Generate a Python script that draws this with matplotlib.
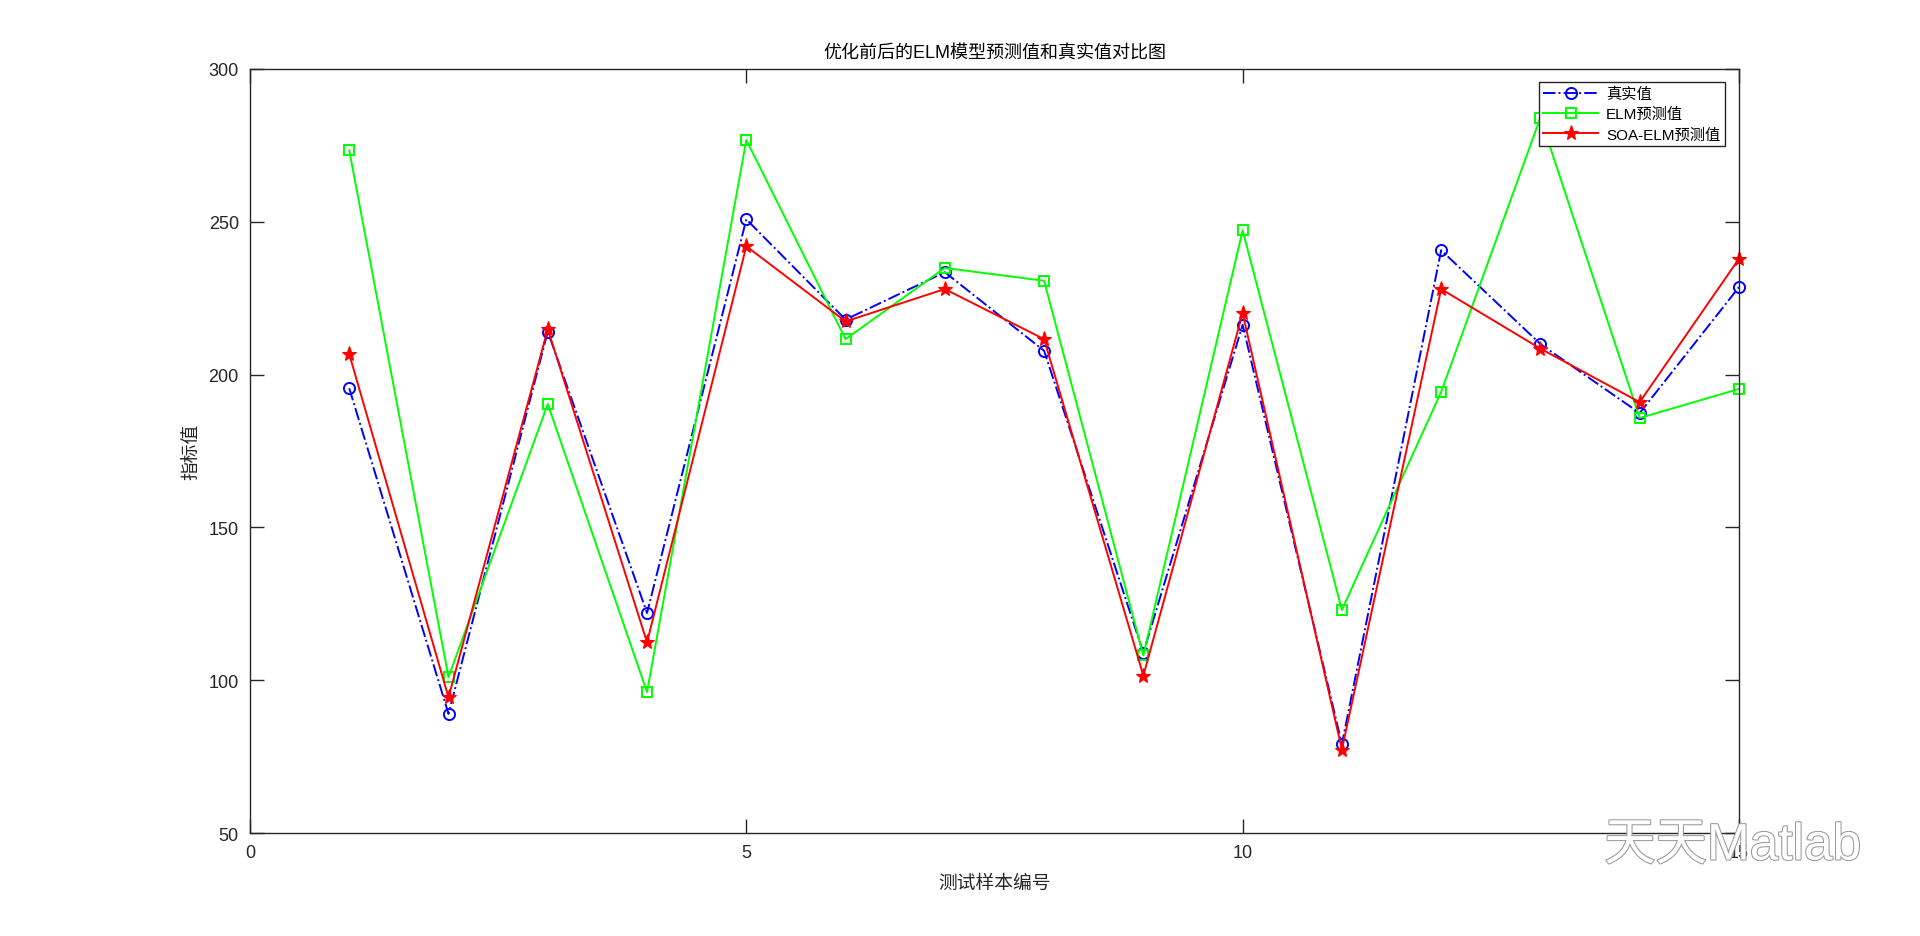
import matplotlib
matplotlib.use("Agg")
import matplotlib.pyplot as plt
import matplotlib.patheffects as pe

plt.rcParams['font.family'] = ['Liberation Sans', 'Noto Sans CJK SC', 'DejaVu Sans']

sample_idx = list(range(1, 16))
true_vals = [195.5, 89.0, 214.1, 122.0, 250.8, 218.0, 233.5, 207.8, 109.0, 216.3, 79.1, 240.7, 210.0, 187.4, 228.6]
elm_vals = [273.4, 101.0, 190.4, 96.1, 276.8, 211.6, 234.9, 230.7, 108.1, 247.2, 123.0, 194.3, 284.1, 185.8, 195.3]
soa_elm_vals = [206.7, 94.4, 214.9, 112.4, 242.0, 217.4, 228.0, 211.6, 101.5, 220.1, 77.3, 228.0, 208.5, 191.0, 237.9]
series_names = ['真实值', 'ELM预测值', 'SOA-ELM预测值']
x_ticks = [0, 5, 10, 15]
y_ticks = [50, 100, 150, 200, 250, 300]

fig = plt.figure(figsize=(19.2, 9.37), dpi=100)
ax = fig.add_axes([0.1302, 0.1099, 0.9057 - 0.1302, 0.9253 - 0.1099])

ax.plot(sample_idx, true_vals, color=(0, 0, 1), linestyle='-.', linewidth=1.4,
        marker='o', markersize=8, markerfacecolor='none', markeredgewidth=1.4,
        label=series_names[0], clip_on=False)
ax.plot(sample_idx, elm_vals, color=(0, 1, 0), linestyle='-', linewidth=1.4,
        marker='s', markersize=7, markerfacecolor='none', markeredgewidth=1.4,
        label=series_names[1], clip_on=False)
ax.plot(sample_idx, soa_elm_vals, color=(1, 0, 0), linestyle='-', linewidth=1.4,
        marker='*', markersize=11, markerfacecolor=(1, 0, 0), markeredgewidth=0.8,
        label=series_names[2], clip_on=False)

ax.set_xlim(0, 15)
ax.set_ylim(50, 300)
ax.set_xticks(x_ticks)
ax.set_yticks(y_ticks)
axcol = (0.15, 0.15, 0.15)
ax.tick_params(direction='in', top=True, right=True, length=10, width=1.0,
               colors=axcol, labelsize=13, pad=8)
for s in ax.spines.values():
    s.set_color(axcol)
    s.set_linewidth(1.0)

ax.set_title('优化前后的ELM模型预测值和真实值对比图', fontsize=13, color='black', pad=8)
ax.set_xlabel('测试样本编号', fontsize=13.5, color=axcol, labelpad=10)
ax.set_ylabel('指标值', fontsize=13.5, color=axcol, labelpad=6)

leg = ax.legend(loc='upper right', bbox_to_anchor=(0.9906, 0.9826), fontsize=11,
                frameon=True, fancybox=False, edgecolor=axcol, framealpha=1,
                handlelength=3.6, borderpad=0.3, labelspacing=0.4, handletextpad=0.5,
                borderaxespad=0)
leg.get_frame().set_linewidth(1.0)

wm = fig.text(0.8355, 0.096, '天天Matlab', fontsize=37, color='white',
              family=['Liberation Sans', 'Noto Sans CJK SC'], va='center', ha='left')
wm.set_path_effects([pe.withStroke(linewidth=1.5, foreground=(0.6, 0.6, 0.6))])

fig.savefig('out.png', dpi=100, facecolor='white')
